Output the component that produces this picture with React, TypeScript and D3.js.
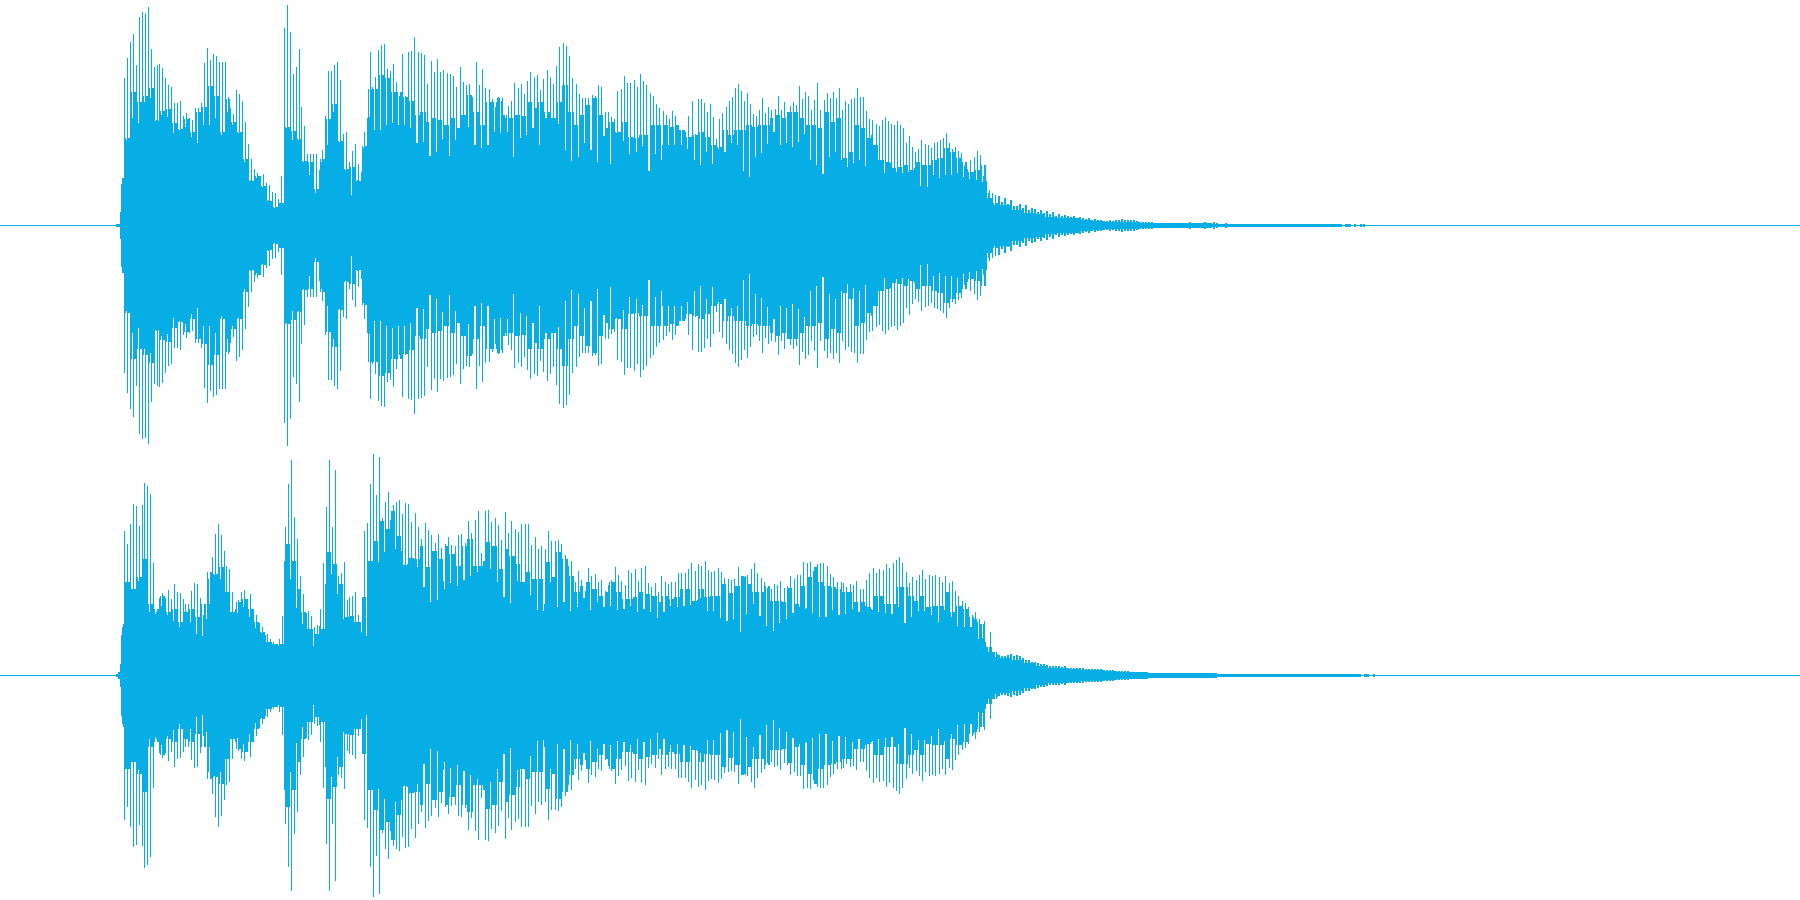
import { useEffect, useRef } from 'react';
import * as d3 from 'd3';

const width = 1800;
const height = 900;
const waveColor = '#06aee5';
// amplitude units: full scale of one channel
const fullScale = 675;

const channels = ['left', 'right'];

// sample windows, in display columns
const attackStart = 116;
const segmentEdges = [124, 408, 698, 998];
const leftTailEnd = 1366;
const rightTailEnd = 1379;

const leftAttack = [4, 4, 4, 4, 38, 123, 141, 141];
const rightAttack = [4, 4, 8, 10, 32, 120, 143, 153];

// left channel, one peak per 3 columns, body and notch per 6 columns
const leftPeaks1 = [441, 501, 549, 573, 480, 624, 639, 636, 654, 528, 473, 480, 483, 471, 441, 420, 414, 366, 366, 372, 328, 336, 321, 315, 351, 351, 366, 486, 531, 495, 513, 507, 489, 489, 489, 383, 351, 333, 405, 393, 372, 309, 243, 198, 168, 156, 148, 153, 126, 120, 98, 96, 78, 148, 591, 660, 579, 453, 473, 528, 354, 297, 213, 213, 213, 213, 166, 225, 327, 463, 463, 480, 489, 435, 273, 278, 188, 222, 243, 183, 158, 278, 321, 519, 413, 443, 525, 541, 543, 468, 463, 483, 428, 388, 513, 388];
const leftBody1 = [261, 400, 370, 388, 411, 313, 343, 348, 306, 288, 318, 278, 338, 353, 418, 388, 278, 378, 308, 278, 198, 133, 148, 118, 73, 53, 66, 293, 283, 258, 193, 188, 108, 198, 318, 363, 253, 168, 173, 133, 238, 408, 408, 450, 440, 400, 400, 385];
const leftNotch1 = [255, 320, 305, 370, 380, 315, 330, 325, 275, 285, 295, 265, 245, 300, 300, 320, 270, 340, 300, 275, 190, 135, 140, 115, 75, 50, 65, 290, 255, 255, 190, 150, 95, 190, 240, 340, 250, 165, 90, 135, 230, 325, 285, 285, 300, 305, 300, 300];

const leftPeaks2 = [518, 523, 564, 520, 516, 510, 423, 493, 460, 498, 458, 466, 456, 453, 448, 413, 473, 428, 420, 423, 383, 488, 420, 468, 410, 408, 378, 353, 383, 373, 320, 358, 373, 426, 410, 423, 393, 432, 458, 444, 450, 406, 438, 465, 443, 423, 478, 535, 546, 538, 506, 441, 423, 393, 381, 381, 381, 390, 386, 420, 413, 338, 338, 323, 318, 402, 408, 446, 426, 426, 435, 413, 453, 431, 420, 395, 386, 363, 350, 341, 330, 318, 343, 328, 285, 285, 278, 328, 371, 273];
const leftBody2 = [373, 330, 340, 310, 320, 315, 300, 320, 290, 330, 390, 340, 300, 370, 370, 380, 330, 320, 330, 327, 370, 350, 370, 340, 320, 370, 420, 340, 300, 330, 360, 380, 330, 290, 310, 280, 310, 265, 260, 270, 270, 300, 300, 300, 295, 300, 285, 265, 270];
const leftNotch2 = [290, 246, 250, 208, 220, 258, 208, 256, 300, 330, 295, 240, 231, 241, 280, 276, 280, 205, 260, 270, 290, 241, 320, 320, 303, 190, 226, 192, 205, 245, 225, 190, 268, 184, 276, 253, 213, 220, 238, 163, 213, 196, 241, 241, 241, 240, 228, 196];

const leftPeaks3 = [378, 378, 366, 339, 363, 324, 258, 318, 336, 354, 372, 384, 411, 423, 402, 372, 396, 363, 333, 328, 345, 381, 336, 354, 346, 348, 387, 345, 368, 338, 358, 369, 360, 417, 378, 399, 387, 345, 375, 426, 345, 375, 396, 381, 399, 381, 411, 345, 372, 363, 378, 381, 411, 384, 384, 342, 318, 315, 303, 297, 315, 324, 312, 303, 300, 312, 300, 291, 246, 267, 234, 219, 228, 255, 243, 240, 231, 246, 250, 255, 261, 276, 246, 228, 234, 222, 216, 178, 168, 195, 204, 222, 210, 148, 133, 105, 96, 90];
const leftBody3 = [278, 265, 240, 235, 285, 270, 285, 285, 300, 295, 300, 300, 320, 330, 320, 340, 340, 320, 300, 300, 290, 340, 310, 320, 200, 220, 300, 290, 260, 240, 195, 190, 170, 175, 180, 165, 190, 180, 180, 195, 200, 230, 220, 200, 190, 160, 165, 180, 80, 65];
const leftNotch3 = [180, 220, 183, 228, 220, 246, 240, 162, 145, 205, 215, 243, 280, 240, 245, 235, 250, 272, 195, 180, 153, 205, 220, 195, 175, 185, 195, 178, 270, 250, 195, 157, 185, 160, 157, 160, 170, 118, 115, 150, 140, 150, 150, 155, 145, 138, 135, 130, 95, 60];

const leftTailPeaks = [88, 70, 80, 62, 75, 58, 56, 64, 50, 60, 46, 52, 48, 40, 44, 36, 42, 32, 38, 28, 34, 26, 30, 26, 24, 28, 22, 24, 20, 18, 20, 16, 18, 14, 15, 13, 12, 14, 13, 16, 16, 18, 14, 16, 14, 16, 12, 10, 9, 8, 8, 8, 7, 7, 6, 6, 6, 6, 6, 6, 6, 6, 6, 6, 9, 6, 6, 6, 6, 9, 6, 6, 9, 6, 3, 3, 6, 3, 3, 3, 3, 3, 3, 3, 3, 3, 3, 3, 3, 3, 3, 3, 3, 3, 3, 3, 3, 3, 3, 3, 3, 3, 3, 3, 3, 3, 3, 3, 3, 3, 3, 3, 3, 3, 3, 0, 3, 3, 0, 3, 0, 3, 3];
const leftTailFloors = [60, 46, 36, 34, 24, 20, 20, 14, 12, 10, 10, 10, 7, 6, 6, 6, 6, 6, 3, 3, 3, 3, 3, 3, 3, 3, 3, 3, 3, 3, 0];

// right channel
const rightPeaks1 = [432, 393, 453, 513, 507, 446, 510, 576, 567, 543, 336, 190, 231, 246, 231, 255, 228, 273, 249, 246, 228, 213, 213, 251, 276, 273, 231, 180, 168, 213, 354, 423, 453, 420, 372, 326, 318, 248, 198, 225, 249, 255, 228, 243, 198, 180, 156, 144, 120, 123, 108, 98, 93, 108, 178, 444, 573, 645, 473, 408, 298, 243, 186, 191, 176, 145, 150, 198, 336, 503, 645, 443, 615, 298, 306, 339, 226, 235, 237, 249, 181, 130, 432, 456, 573, 663, 540, 654, 471, 519, 549, 464, 510, 518, 525, 483, 516];
const rightBody1 = [278, 258, 293, 348, 213, 198, 238, 188, 198, 158, 188, 198, 173, 213, 308, 303, 323, 248, 188, 218, 228, 198, 158, 128, 98, 93, 93, 393, 343, 258, 188, 138, 123, 138, 368, 333, 273, 173, 178, 158, 233, 343, 403, 463, 438, 493, 418, 331];
const rightNotch1 = [278, 258, 283, 278, 188, 183, 208, 180, 163, 143, 153, 158, 123, 118, 288, 300, 288, 243, 188, 186, 203, 173, 141, 126, 93, 93, 88, 343, 288, 201, 153, 108, 88, 148, 273, 303, 243, 168, 158, 158, 118, 318, 343, 338, 368, 378, 373, 333];

const rightPeaks2 = [513, 459, 486, 444, 408, 456, 435, 420, 396, 423, 381, 393, 414, 390, 387, 420, 423, 396, 462, 426, 465, 492, 366, 492, 495, 458, 471, 450, 405, 489, 426, 462, 438, 429, 453, 453, 453, 390, 414, 378, 387, 378, 432, 402, 402, 405, 393, 360, 328, 342, 278, 312, 285, 252, 321, 297, 303, 278, 285, 251, 270, 285, 324, 300, 282, 270, 315, 306, 318, 282, 321, 327, 276, 263, 276, 248, 297, 279, 273, 279, 279, 306, 306, 306, 318, 336, 312];
const rightBody2 = [351, 348, 388, 323, 373, 348, 388, 363, 328, 388, 408, 328, 328, 398, 388, 318, 378, 358, 333, 278, 308, 288, 288, 338, 293, 368, 348, 298, 248, 268, 278, 258, 238, 248, 278, 248, 228, 228, 233, 248, 243, 238, 218, 238, 228, 233, 258, 258, 223];
const rightNotch2 = [351, 324, 265, 220, 226, 283, 258, 276, 268, 286, 298, 310, 343, 318, 306, 280, 235, 217, 283, 278, 241, 196, 192, 213, 278, 205, 220, 193, 205, 230, 196, 202, 220, 205, 208, 196, 198, 208, 188, 198, 188, 196, 172, 190, 208, 205, 208, 211, 225];

const rightPeaks3 = [333, 328, 342, 315, 309, 313, 321, 309, 291, 288, 285, 288, 324, 297, 294, 300, 318, 336, 306, 291, 279, 261, 258, 273, 270, 282, 261, 266, 297, 288, 300, 300, 339, 336, 339, 312, 333, 336, 336, 327, 303, 294, 258, 258, 276, 264, 273, 270, 282, 258, 258, 285, 306, 321, 306, 318, 315, 333, 321, 336, 345, 354, 336, 309, 276, 294, 285, 300, 315, 288, 300, 297, 300, 294, 279, 297, 276, 282, 252, 237, 222, 216, 204, 180, 189, 108, 111, 98, 68, 84, 53];
const rightBody3 = [258, 233, 238, 238, 273, 246, 268, 296, 273, 248, 248, 268, 223, 223, 218, 261, 213, 268, 293, 323, 278, 268, 263, 278, 248, 248, 218, 218, 203, 238, 238, 213, 213, 263, 263, 238, 223, 238, 203, 208, 208, 248, 188, 208, 198, 173, 168, 153, 83, 68];
const rightNotch3 = [231, 193, 191, 171, 163, 168, 168, 130, 183, 213, 178, 148, 133, 156, 168, 186, 203, 198, 201, 186, 175, 175, 195, 181, 183, 198, 189, 208, 198, 195, 189, 186, 183, 203, 156, 174, 192, 192, 180, 208, 159, 195, 175, 148, 145, 145, 160, 163, 130, 63];

const rightTailPeaks = [60, 56, 58, 60, 62, 58, 60, 56, 50, 46, 44, 40, 38, 36, 34, 32, 30, 28, 26, 28, 26, 24, 26, 22, 22, 21, 22, 20, 20, 19, 18, 19, 18, 17, 17, 16, 15, 15, 14, 13, 13, 12, 12, 11, 10, 10, 9, 9, 8, 8, 7, 7, 7, 7, 6, 6, 6, 6, 6, 6, 6, 6, 6, 6, 6, 6, 6, 6, 6, 6, 6, 6, 6, 3, 3, 3, 3, 3, 3, 3, 3, 3, 3, 3, 3, 3, 3, 3, 3, 3, 3, 3, 3, 3, 3, 3, 3, 3, 3, 3, 3, 3, 3, 3, 3, 3, 3, 3, 3, 3, 3, 3, 3, 3, 3, 3, 3, 3, 3, 3, 3, 0, 3, 3, 0, 3, 0];
const rightTailFloors = [52, 46, 36, 28, 22, 20, 18, 16, 14, 12, 10, 9, 8, 7, 6, 6, 6, 6, 6, 3, 3, 3, 3, 3, 3, 3, 3, 3, 3, 3, 3, 0];

const leftSegments = [
  { peaks: leftPeaks1, body: leftBody1, notch: leftNotch1 },
  { peaks: leftPeaks2, body: leftBody2, notch: leftNotch2 },
  { peaks: leftPeaks3, body: leftBody3, notch: leftNotch3 },
];
const rightSegments = [
  { peaks: rightPeaks1, body: rightBody1, notch: rightNotch1 },
  { peaks: rightPeaks2, body: rightBody2, notch: rightNotch2 },
  { peaks: rightPeaks3, body: rightBody3, notch: rightNotch3 },
];

// one amplitude for every display column of a channel
function buildColumns(attack: number[], segments: any[], tailPeaks: number[], tailFloors: number[], tailEnd: number) {
  const columns: { col: number; amp: number }[] = attack.map((amp, i) => ({ col: attackStart + i, amp }));

  segments.forEach((seg, s) => {
    const domain: [number, number] = [segmentEdges[s], segmentEdges[s + 1]];
    const cell = d3.scaleQuantize<number>().domain(domain).range(d3.range(seg.peaks.length));
    const body = d3.scaleQuantize<number>().domain(domain).range(seg.body);
    const notch = d3.scaleQuantize<number>().domain(domain).range(seg.notch);
    let prev = -1;
    let role = 0;
    for (const col of d3.range(domain[0], domain[1])) {
      const c = cell(col + 0.5);
      role = c === prev ? role + 1 : 0;
      prev = c;
      // the deep white gaps only show in every other cell
      let amp = body(col + 0.5);
      if (role === 0) amp = seg.peaks[c];
      else if (role > 1 && c % 2 === 0) amp = notch(col + 0.5);
      columns.push({ col, amp });
    }
  });

  const tailDomain: [number, number] = [segmentEdges[3], tailEnd];
  const tailCell = d3.scaleQuantize<number>().domain(tailDomain).range(d3.range(tailPeaks.length));
  const floor = d3.scaleQuantize<number>().domain(tailDomain).range(tailFloors);
  let prevCell = -1;
  let run = 0;
  for (const col of d3.range(tailDomain[0], tailDomain[1])) {
    const c = tailCell(col + 0.5);
    run = c === prevCell ? run + 1 : 0;
    prevCell = c;
    const p = tailPeaks[c];
    columns.push({ col, amp: run < 2 ? p : Math.min(p, floor(col + 0.5)) });
  }
  return columns;
}

export default function App() {
  const svgRef = useRef<SVGSVGElement>(null);

  useEffect(() => {
    const svg = d3.select(svgRef.current);
    svg.selectAll('*').remove();

    const x = d3.scaleLinear().domain([0, width]).range([0, width]);
    const band = d3.scaleBand<string>().domain(channels).range([0, height]);

    const waves = [
      buildColumns(leftAttack, leftSegments, leftTailPeaks, leftTailFloors, leftTailEnd),
      buildColumns(rightAttack, rightSegments, rightTailPeaks, rightTailFloors, rightTailEnd),
    ];

    channels.forEach((name, i) => {
      const top = band(name) as number;
      const y = d3.scaleLinear().domain([fullScale, -fullScale]).range([top, top + band.bandwidth()]);
      const g = svg.append('g').attr('shape-rendering', 'crispEdges').attr('fill', waveColor);

      // silence line
      g.append('rect')
        .attr('x', 0)
        .attr('y', y(0))
        .attr('width', width)
        .attr('height', 1);

      g.selectAll('rect.col')
        .data(waves[i])
        .join('rect')
        .attr('class', 'col')
        .attr('x', d => x(d.col))
        .attr('y', d => Math.round(y(d.amp)))
        .attr('width', 1)
        .attr('height', d => Math.round(y(-d.amp)) - Math.round(y(d.amp)) + 1);
    });
  }, []);

  return (
    <svg
      ref={svgRef}
      width={width}
      height={height}
      style={{ position: 'absolute', left: 0, top: 0, background: '#fff', display: 'block' }}
    />
  );
}
